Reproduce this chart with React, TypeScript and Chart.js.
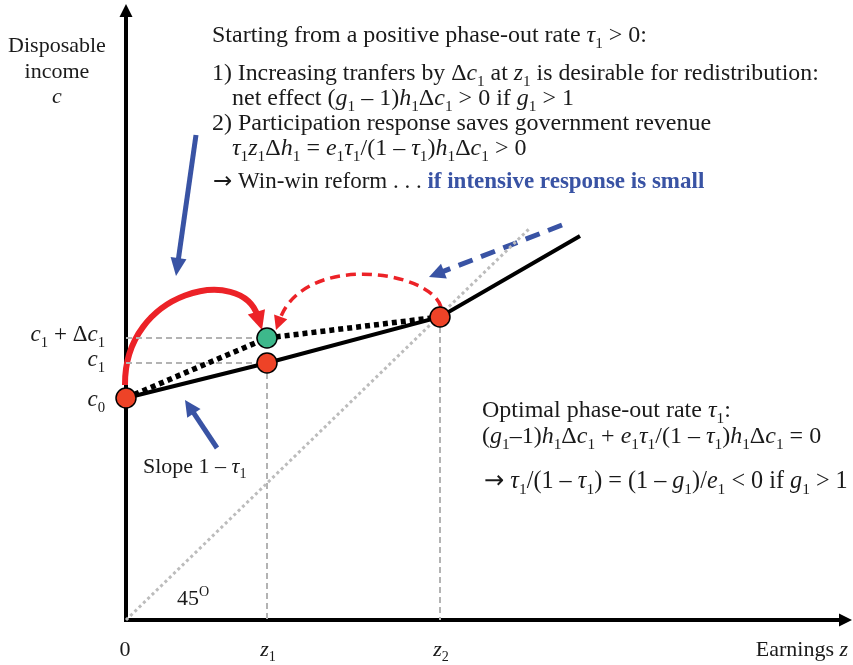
import { useEffect, useRef } from "react";
import { Chart, registerables } from "chart.js";
Chart.register(...registerables);

// ---------- data (diagram units) ----------
const EARNINGS = [0, 14.1, 31.4, 45.4]; // 0, z1, z2, end of schedule
const INCOME = [22.2, 25.7, 30.3, 38.4]; // c0, c1, c2, end
const INCOME_REFORM = [22.2, 28.2, 30.3]; // c0, c1+Δc1, c2
const DIAG_Z = [0, 40.4];
const DIAG_C = [0, 39.2];
const AXIS_X_MAX = 72.6;
const AXIS_Y_MAX = 61.6;

// curved arrows: [x0,y0, x1,y1, x2,y2, x3,y3]
const RED_ARC = [-0.1, 23.5, -0.2, 33.0, 12.0, 34.2, 13.6, 29.0];
const RED_DASHED_ARC = [31.5, 31.3, 30.4, 35.0, 17.4, 35.8, 15.0, 29.0];
// straight arrows: [tailX, tailY, tipX, tipY]
const BLUE_ARROW_TOP = [7.0, 48.5, 5.0, 34.4];
const BLUE_ARROW_SLOPE = [9.1, 17.2, 5.9, 22.0];
const BLUE_DASHED_ARROW = [43.6, 39.5, 30.3, 34.3];

type Label = { t: string; x: number; y: number; a: "left" | "center" | "right"; s?: number };
const LABELS: Label[] = [
  { t: "Disposable", x: -6.9, y: 56.8, a: "center" },
  { t: "income", x: -6.9, y: 54.2, a: "center" },
  { t: "{c}", x: -6.9, y: 51.7, a: "center" },
  { t: "Starting from a positive phase-out rate {τ}_1 > 0:", x: 8.6, y: 57.8, a: "left", s: 24 },
  { t: "1) Increasing tranfers by Δ{c}_1 at {z}_1 is desirable for redistribution:", x: 8.6, y: 54.0, a: "left", s: 23.8 },
  { t: "net effect ({g}_1 – 1){h}_1Δ{c}_1 > 0 if {g}_1 > 1", x: 10.6, y: 51.5, a: "left", s: 24 },
  { t: "2) Participation response saves government revenue", x: 8.6, y: 49.0, a: "left", s: 24 },
  { t: "{τ}_1{z}_1Δ{h}_1 = {e}_1{τ}_1/(1 – {τ}_1){h}_1Δ{c}_1 > 0", x: 10.6, y: 46.5, a: "left", s: 24 },
  { t: "→ Win-win reform . . . «if intensive response is small»", x: 8.7, y: 43.2, a: "left", s: 23 },
  { t: "{c}_1 + Δ{c}_1", x: -2.1, y: 27.9, a: "right", s: 23 },
  { t: "{c}_1", x: -2.1, y: 25.4, a: "right", s: 23 },
  { t: "{c}_0", x: -2.1, y: 21.4, a: "right", s: 23 },
  { t: "Slope 1 – {τ}_1", x: 1.7, y: 14.7, a: "left" },
  { t: "Optimal phase-out rate {τ}_1:", x: 35.6, y: 20.3, a: "left", s: 24 },
  { t: "({g}_1–1){h}_1Δ{c}_1 + {e}_1{τ}_1/(1 – {τ}_1){h}_1Δ{c}_1 = 0", x: 35.6, y: 17.7, a: "left", s: 24 },
  { t: "→ {τ}_1/(1 – {τ}_1) = (1 – {g}_1)/{e}_1 < 0 if {g}_1 > 1", x: 35.8, y: 13.2, a: "left", s: 24.2 },
  { t: "45^O", x: 5.1, y: 1.5, a: "left" },
  { t: "0", x: -0.1, y: -3.6, a: "center" },
  { t: "{z}_1", x: 14.2, y: -3.6, a: "center" },
  { t: "{z}_2", x: 31.5, y: -3.6, a: "center" },
  { t: "Earnings {z}", x: 72.2, y: -3.6, a: "right" },
];

const FONT = '"Liberation Serif", "Times New Roman", serif';
const FS = 22;
const BLUE = "#3953a4";
const RED = "#ec2227";

type Seg = { text: string; italic: boolean; sub: boolean; sup: boolean; blue: boolean };
function parse(s: string): Seg[] {
  const segs: Seg[] = [];
  let italic = false;
  let blue = false;
  for (let i = 0; i < s.length; i++) {
    const ch = s[i];
    if (ch === "{") { italic = true; continue; }
    if (ch === "}") { italic = false; continue; }
    if (ch === "«") { blue = true; continue; }
    if (ch === "»") { blue = false; continue; }
    if (ch === "_" || ch === "^") {
      const n = s[++i];
      segs.push({ text: n, italic: false, sub: ch === "_", sup: ch === "^", blue });
      continue;
    }
    const last = segs[segs.length - 1];
    if (last && !last.sub && !last.sup && last.italic === italic && last.blue === blue) last.text += ch;
    else segs.push({ text: ch, italic, sub: false, sup: false, blue });
  }
  return segs;
}

function segFont(sg: Seg, size: number) {
  const sz = sg.sub || sg.sup ? size * 0.64 : size;
  const fam = sg.text === "→" ? '"DejaVu Sans", sans-serif' : FONT;
  return `${sg.blue ? "bold " : ""}${sg.italic ? "italic " : ""}${sz}px ${fam}`;
}

function splitArrow(segs: Seg[]): Seg[] {
  const out: Seg[] = [];
  segs.forEach((sg) => {
    if (sg.text.startsWith("→") && sg.text.length > 1) {
      out.push({ ...sg, text: "→" });
      out.push({ ...sg, text: sg.text.slice(1) });
    } else out.push(sg);
  });
  return out;
}

function drawRich(ctx: CanvasRenderingContext2D, text: string, x: number, y: number, align: string, size: number) {
  const segs = splitArrow(parse(text));
  let total = 0;
  const widths = segs.map((sg) => {
    ctx.font = segFont(sg, size);
    const w = ctx.measureText(sg.text).width;
    total += w;
    return w;
  });
  let cx = align === "left" ? x : align === "center" ? x - total / 2 : x - total;
  ctx.textAlign = "left";
  ctx.textBaseline = "alphabetic";
  segs.forEach((sg, i) => {
    ctx.font = segFont(sg, size);
    ctx.fillStyle = sg.blue ? BLUE : "#1a1a1a";
    const dy = sg.sub ? size * 0.24 : sg.sup ? -size * 0.4 : 0;
    ctx.fillText(sg.text, cx, y + dy);
    cx += widths[i];
  });
}

function head(ctx: CanvasRenderingContext2D, tx: number, ty: number, dx: number, dy: number, len: number, hw: number, color: string) {
  const n = Math.hypot(dx, dy) || 1;
  const ux = dx / n, uy = dy / n;
  const bx = tx - ux * len, by = ty - uy * len;
  ctx.save();
  ctx.setLineDash([]);
  ctx.fillStyle = color;
  ctx.beginPath();
  ctx.moveTo(tx, ty);
  ctx.lineTo(bx - uy * hw, by + ux * hw);
  ctx.lineTo(bx + uy * hw, by - ux * hw);
  ctx.closePath();
  ctx.fill();
  ctx.restore();
}

const diagramPlugin = {
  id: "diagram",
  beforeDatasetsDraw(chart: any) {
    const ctx: CanvasRenderingContext2D = chart.ctx;
    const xs = chart.scales.x, ys = chart.scales.y;
    const px = (v: number) => xs.getPixelForValue(v);
    const py = (v: number) => ys.getPixelForValue(v);
    ctx.save();
    ctx.lineCap = "butt";

    // axes
    ctx.strokeStyle = "#000";
    ctx.lineWidth = 4;
    ctx.beginPath();
    ctx.moveTo(px(0), py(0));
    ctx.lineTo(px(0), py(AXIS_Y_MAX) + 10);
    ctx.moveTo(px(0) - 2, py(0));
    ctx.lineTo(px(AXIS_X_MAX) - 10, py(0));
    ctx.stroke();
    head(ctx, px(0), py(AXIS_Y_MAX), 0, -1, 13, 6.5, "#000");
    head(ctx, px(AXIS_X_MAX), py(0), 1, 0, 13, 6.5, "#000");

    const bez = (p: number[], color: string, w: number, dash: number[], hl: number, hw: number) => {
      const P = [px(p[0]), py(p[1]), px(p[2]), py(p[3]), px(p[4]), py(p[5]), px(p[6]), py(p[7])];
      const dx = P[6] - P[4], dy = P[7] - P[5];
      const n = Math.hypot(dx, dy);
      const sx = (dx / n) * hl * 0.75, sy = (dy / n) * hl * 0.75;
      ctx.strokeStyle = color;
      ctx.lineWidth = w;
      ctx.setLineDash(dash);
      ctx.beginPath();
      ctx.moveTo(P[0], P[1]);
      ctx.bezierCurveTo(P[2], P[3], P[4] - sx, P[5] - sy, P[6] - sx, P[7] - sy);
      ctx.stroke();
      head(ctx, P[6], P[7], dx, dy, hl, hw, color);
    };
    const straight = (p: number[], color: string, w: number, dash: number[], hl: number, hw: number) => {
      const x0 = px(p[0]), y0 = py(p[1]), x1 = px(p[2]), y1 = py(p[3]);
      const dx = x1 - x0, dy = y1 - y0;
      const n = Math.hypot(dx, dy);
      ctx.strokeStyle = color;
      ctx.lineWidth = w;
      ctx.setLineDash(dash);
      ctx.beginPath();
      ctx.moveTo(x0, y0);
      ctx.lineTo(x1 - (dx / n) * hl * 0.75, y1 - (dy / n) * hl * 0.75);
      ctx.stroke();
      head(ctx, x1, y1, dx, dy, hl, hw, color);
    };

    bez(RED_ARC, RED, 6, [], 19, 9);
    bez(RED_DASHED_ARC, RED, 3.5, [10, 6], 14, 7);
    straight(BLUE_ARROW_TOP, BLUE, 5, [], 18, 8);
    straight(BLUE_ARROW_SLOPE, BLUE, 5, [], 16, 8);
    straight(BLUE_DASHED_ARROW, BLUE, 5, [15, 9], 16, 8);
    ctx.restore();
  },
  afterDatasetsDraw(chart: any) {
    const ctx: CanvasRenderingContext2D = chart.ctx;
    const xs = chart.scales.x, ys = chart.scales.y;
    ctx.save();
    LABELS.forEach((l) => drawRich(ctx, l.t, xs.getPixelForValue(l.x), ys.getPixelForValue(l.y), l.a, l.s ?? FS));
    ctx.restore();
  },
};

export default function App() {
  const ref = useRef<HTMLCanvasElement | null>(null);
  useEffect(() => {
    if (!ref.current) return;
    const pts = (xs: number[], ys: number[]) => xs.map((x, i) => ({ x, y: ys[i] }));
    const guide = (data: { x: number; y: number }[]) => ({
      data,
      showLine: true,
      borderColor: "#b3b3b3",
      borderWidth: 2,
      borderDash: [6, 4],
      pointRadius: 0,
      fill: false,
    });
    const chart = new Chart(ref.current, {
      type: "scatter",
      data: {
        datasets: [
          {
            data: pts([EARNINGS[0], EARNINGS[1], EARNINGS[2]], [INCOME[0], INCOME[1], INCOME[2]]),
            pointRadius: 10,
            pointBackgroundColor: "#ee4327",
            pointBorderColor: "#000",
            pointBorderWidth: 1.5,
            showLine: false,
          },
          {
            data: pts([EARNINGS[1]], [INCOME_REFORM[1]]),
            pointRadius: 10,
            pointBackgroundColor: "#3db88b",
            pointBorderColor: "#000",
            pointBorderWidth: 1.5,
            showLine: false,
          },
          {
            data: pts(EARNINGS.slice(0, 3), INCOME_REFORM),
            showLine: true,
            borderColor: "#000",
            borderWidth: 5.5,
            borderDash: [5, 4],
            pointRadius: 0,
          },
          {
            data: pts(EARNINGS, INCOME),
            showLine: true,
            borderColor: "#000",
            borderWidth: 4,
            pointRadius: 0,
          },
          {
            data: pts(DIAG_Z, DIAG_C),
            showLine: true,
            borderColor: "#bcbcbc",
            borderWidth: 3,
            borderDash: [3, 3],
            pointRadius: 0,
          },
          guide([{ x: 0, y: INCOME_REFORM[1] }, { x: EARNINGS[1], y: INCOME_REFORM[1] }]),
          guide([{ x: 0, y: INCOME[1] }, { x: EARNINGS[1], y: INCOME[1] }]),
          guide([{ x: EARNINGS[1], y: INCOME[1] }, { x: EARNINGS[1], y: 0 }]),
          guide([{ x: EARNINGS[2], y: INCOME[2] }, { x: EARNINGS[2], y: 0 }]),
        ] as any,
      },
      options: {
        responsive: false,
        animation: false,
        devicePixelRatio: 1,
        layout: { padding: 0, autoPadding: false },
        plugins: { legend: { display: false }, tooltip: { enabled: false } },
        scales: {
          x: { type: "linear", min: -12.6, max: 72.7, display: false },
          y: { type: "linear", min: -4.5, max: 62.0, display: false },
        },
      },
      plugins: [diagramPlugin],
    });
    return () => chart.destroy();
  }, []);
  return (
    <canvas
      ref={ref}
      width={853}
      height={665}
      style={{ position: "absolute", left: 0, top: 0, width: 853, height: 665, background: "#fff" }}
    />
  );
}
